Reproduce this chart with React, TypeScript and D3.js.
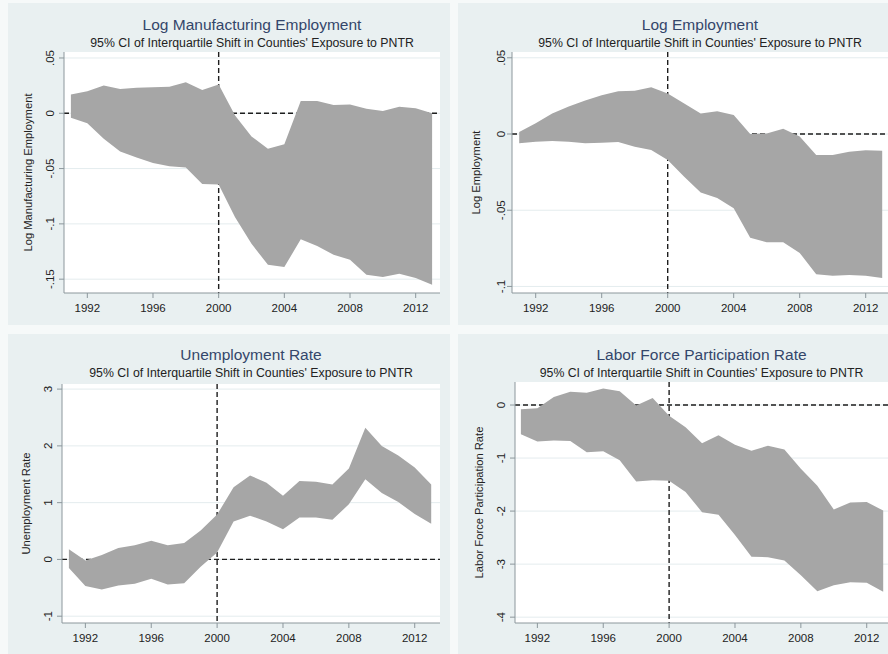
import React from "react";
import * as d3 from "d3";

// ---------- DATA ----------
const years = [1991, 1992, 1993, 1994, 1995, 1996, 1997, 1998, 1999, 2000, 2001, 2002, 2003, 2004, 2005, 2006, 2007, 2008, 2009, 2010, 2011, 2012, 2013];
const xTicks = [1992, 1996, 2000, 2004, 2008, 2012];
const eventYear = 2000;
const subtitleText = "95% CI of Interquartile Shift in Counties' Exposure to PNTR";

const mfgUpper = [0.017, 0.020, 0.025, 0.022, 0.023, 0.0235, 0.024, 0.028, 0.021, 0.026, -0.002, -0.021, -0.032, -0.028, 0.011, 0.011, 0.0075, 0.008, 0.004, 0.002, 0.006, 0.0045, 0.0];
const mfgLower = [-0.004, -0.009, -0.023, -0.0345, -0.04, -0.045, -0.048, -0.049, -0.064, -0.0645, -0.094, -0.118, -0.137, -0.139, -0.114, -0.12, -0.128, -0.1325, -0.146, -0.148, -0.145, -0.149, -0.155];
const mfgTicks = [0.05, 0, -0.05, -0.1, -0.15];
const mfgTickLabels = [".05", "0", "-.05", "-.1", "-.15"];

const empUpper = [0.0013, 0.007, 0.0135, 0.018, 0.022, 0.0255, 0.028, 0.0284, 0.0306, 0.0266, 0.020, 0.0135, 0.015, 0.0124, 0.0, 0.0004, 0.0035, -0.0017, -0.0138, -0.0138, -0.0116, -0.0107, -0.011];
const empLower = [-0.006, -0.005, -0.0046, -0.005, -0.006, -0.0057, -0.0052, -0.0083, -0.0105, -0.017, -0.028, -0.0384, -0.042, -0.0487, -0.068, -0.071, -0.071, -0.078, -0.092, -0.093, -0.0925, -0.093, -0.0945];
const empTicks = [0.05, 0, -0.05, -0.1];
const empTickLabels = [".05", "0", "-.05", "-.1"];

const unempUpper = [0.18, -0.02, 0.08, 0.2, 0.25, 0.33, 0.25, 0.29, 0.51, 0.79, 1.27, 1.48, 1.35, 1.12, 1.38, 1.37, 1.32, 1.6, 2.32, 2.0, 1.83, 1.62, 1.32];
const unempLower = [-0.15, -0.47, -0.53, -0.46, -0.43, -0.34, -0.44, -0.42, -0.13, 0.12, 0.67, 0.77, 0.67, 0.53, 0.74, 0.74, 0.7, 0.97, 1.41, 1.17, 1.01, 0.8, 0.63];
const unempTicks = [-1, 0, 1, 2, 3];
const unempTickLabels = ["-1", "0", "1", "2", "3"];

const lfpUpper = [-0.08, -0.06, 0.15, 0.25, 0.23, 0.31, 0.26, -0.01, 0.13, -0.2, -0.42, -0.72, -0.57, -0.75, -0.86, -0.77, -0.84, -1.2, -1.52, -1.97, -1.84, -1.83, -1.99];
const lfpLower = [-0.55, -0.69, -0.67, -0.68, -0.89, -0.87, -1.04, -1.44, -1.42, -1.43, -1.64, -2.02, -2.07, -2.45, -2.86, -2.87, -2.93, -3.21, -3.51, -3.4, -3.34, -3.35, -3.52];
const lfpTicks = [0, -1, -2, -3, -4];
const lfpTickLabels = ["0", "-1", "-2", "-3", "-4"];

// ---------- LAYOUT / STYLE ----------
const FONT = "'Liberation Sans', Arial, Helvetica, sans-serif";
const PAGE_BG = "#f6f9f9";
const PANEL_BG = "#e9f0f1";
const FILL = "#a6a6a6";
const TITLE_COLOR = "#34466a";
const AXIS_COLOR = "#8c979c";
const GRID_COLOR = "#e4ecee";
const TEXT_COLOR = "#222222";

type Panel = {
  title: string;
  ylabel: string;
  upper: number[];
  lower: number[];
  ticks: number[];
  tickLabels: string[];
  bg: [number, number, number, number];
  plot: { x0: number; x1: number; y0: number; y1: number };
  xr: [number, number];
  yd: [number, number];
  titleY: number;
  subY: number;
  ylabelX: number;
  tickLabelX: number;
  xLabelY: number;
};

const panels: Panel[] = [
  {
    title: "Log Manufacturing Employment",
    ylabel: "Log Manufacturing Employment",
    upper: mfgUpper, lower: mfgLower, ticks: mfgTicks, tickLabels: mfgTickLabels,
    bg: [8, 3, 442, 322],
    plot: { x0: 64, x1: 440, y0: 52, y1: 293 },
    xr: [70.9, 432.1], yd: [0.0554, -0.1625],
    titleY: 30, subY: 46.5, ylabelX: 28, tickLabelX: 50, xLabelY: 311.5,
  },
  {
    title: "Log Employment",
    ylabel: "Log Employment",
    upper: empUpper, lower: empLower, ticks: empTicks, tickLabels: empTickLabels,
    bg: [458, 3, 430, 322],
    plot: { x0: 512, x1: 888, y0: 52, y1: 293 },
    xr: [519.2, 882.2], yd: [0.0538, -0.1043],
    titleY: 30, subY: 46.5, ylabelX: 476, tickLabelX: 501, xLabelY: 311.5,
  },
  {
    title: "Unemployment Rate",
    ylabel: "Unemployment Rate",
    upper: unempUpper, lower: unempLower, ticks: unempTicks, tickLabels: unempTickLabels,
    bg: [8, 334, 442, 320],
    plot: { x0: 62, x1: 440, y0: 384, y1: 623 },
    xr: [68.9, 431.2], yd: [3.09, -1.12],
    titleY: 359.5, subY: 377, ylabelX: 26, tickLabelX: 48, xLabelY: 642,
  },
  {
    title: "Labor Force Participation Rate",
    ylabel: "Labor Force Participation Rate",
    upper: lfpUpper, lower: lfpLower, ticks: lfpTicks, tickLabels: lfpTickLabels,
    bg: [458, 334, 430, 320],
    plot: { x0: 515, x1: 888, y0: 382, y1: 623 },
    xr: [520.9, 883.2], yd: [0.434, -4.11],
    titleY: 359.5, subY: 376.5, ylabelX: 479, tickLabelX: 501, xLabelY: 642,
  },
];

function PanelView({ p }: { p: Panel }) {
  const x = d3.scaleLinear().domain([years[0], years[years.length - 1]]).range(p.xr);
  const y = d3.scaleLinear().domain(p.yd).range([p.plot.y0, p.plot.y1]);
  const rows = years.map((yr, i) => ({ yr, hi: p.upper[i], lo: p.lower[i] }));
  const area = d3
    .area<{ yr: number; hi: number; lo: number }>()
    .x((d) => x(d.yr))
    .y0((d) => y(d.lo))
    .y1((d) => y(d.hi));
  const cx = (p.plot.x0 + p.plot.x1) / 2;
  const cy = (p.plot.y0 + p.plot.y1) / 2;
  return (
    <g>
      <rect x={p.bg[0]} y={p.bg[1]} width={p.bg[2]} height={p.bg[3]} fill={PANEL_BG} />
      <rect x={p.plot.x0} y={p.plot.y0} width={p.plot.x1 - p.plot.x0} height={p.plot.y1 - p.plot.y0} fill="#ffffff" />
      {p.ticks.map((t) => (
        <line key={"g" + t} x1={p.plot.x0} x2={p.plot.x1} y1={y(t)} y2={y(t)} stroke={GRID_COLOR} strokeWidth={1} />
      ))}
      {/* reference lines */}
      <line x1={p.plot.x0} x2={p.plot.x1} y1={y(0)} y2={y(0)} stroke="#1e1e1e" strokeWidth={1.4} strokeDasharray="5,3" />
      <line x1={x(eventYear)} x2={x(eventYear)} y1={p.plot.y0} y2={p.plot.y1} stroke="#1e1e1e" strokeWidth={1.4} strokeDasharray="5,3" />
      <path d={area(rows) || ""} fill={FILL} stroke="none" />
      {/* axes */}
      <line x1={p.plot.x0} x2={p.plot.x0} y1={p.plot.y0} y2={p.plot.y1} stroke={AXIS_COLOR} strokeWidth={1} />
      <line x1={p.plot.x0} x2={p.plot.x1} y1={p.plot.y1} y2={p.plot.y1} stroke={AXIS_COLOR} strokeWidth={1} />
      {p.ticks.map((t, i) => (
        <g key={"yt" + t}>
          <line x1={p.plot.x0 - 5} x2={p.plot.x0} y1={y(t)} y2={y(t)} stroke={AXIS_COLOR} strokeWidth={1} />
          <text
            x={p.tickLabelX}
            y={y(t)}
            transform={`rotate(-90 ${p.tickLabelX} ${y(t)})`}
            textAnchor="middle"
            dominantBaseline="central"
            fontFamily={FONT}
            fontSize={11.5}
            fill={TEXT_COLOR}
          >
            {p.tickLabels[i]}
          </text>
        </g>
      ))}
      {xTicks.map((t) => (
        <g key={"xt" + t}>
          <line x1={x(t)} x2={x(t)} y1={p.plot.y1} y2={p.plot.y1 + 5} stroke={AXIS_COLOR} strokeWidth={1} />
          <text x={x(t)} y={p.xLabelY} textAnchor="middle" fontFamily={FONT} fontSize={11.5} fill={TEXT_COLOR}>
            {t}
          </text>
        </g>
      ))}
      <text
        x={p.ylabelX}
        y={cy}
        transform={`rotate(-90 ${p.ylabelX} ${cy})`}
        textAnchor="middle"
        dominantBaseline="central"
        fontFamily={FONT}
        fontSize={11.2}
        fill={TEXT_COLOR}
      >
        {p.ylabel}
      </text>
      <text x={cx} y={p.titleY} textAnchor="middle" fontFamily={FONT} fontSize={15.5} fill={TITLE_COLOR}>
        {p.title}
      </text>
      <text x={cx} y={p.subY} textAnchor="middle" fontFamily={FONT} fontSize={12.3} fill={TEXT_COLOR}>
        {subtitleText}
      </text>
    </g>
  );
}

export default function App() {
  return (
    <svg
      width={888}
      height={654}
      style={{ position: "absolute", left: 0, top: 0, display: "block" }}
      xmlns="http://www.w3.org/2000/svg"
    >
      <rect x={0} y={0} width={888} height={654} fill={PAGE_BG} />
      {panels.map((p) => (
        <PanelView key={p.title} p={p} />
      ))}
    </svg>
  );
}
